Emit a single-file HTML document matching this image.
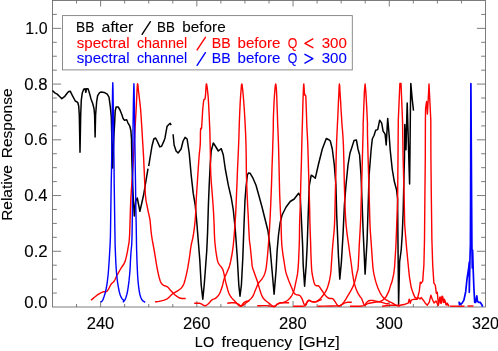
<!DOCTYPE html>
<html><head><meta charset="utf-8"><title>Relative Response vs LO frequency</title>
<style>
html,body{margin:0;padding:0;background:#fff;}
body{width:498px;height:351px;overflow:hidden;font-family:"Liberation Sans",sans-serif;}
svg{display:block;}
</style></head><body>
<svg style="will-change:transform" width="498" height="351" viewBox="0 0 498 351">
<defs><filter id="ga" x="0" y="0" width="100%" height="100%" filterUnits="userSpaceOnUse" color-interpolation-filters="sRGB"><feOffset dx="0" dy="0"/></filter></defs>
<rect width="498" height="351" fill="#fff"/>
<g fill="none" stroke="#666666" stroke-width="0.85" shape-rendering="auto">
<rect x="52.50" y="0.50" width="433.00" height="306.50"/>
<path d="M76.56 307.00 v-3.00 M76.56 0.50 v3.00 M100.61 307.00 v-6.00 M100.61 0.50 v6.00 M124.67 307.00 v-3.00 M124.67 0.50 v3.00 M148.72 307.00 v-3.00 M148.72 0.50 v3.00 M172.78 307.00 v-3.00 M172.78 0.50 v3.00 M196.83 307.00 v-6.00 M196.83 0.50 v6.00 M220.89 307.00 v-3.00 M220.89 0.50 v3.00 M244.94 307.00 v-3.00 M244.94 0.50 v3.00 M269.00 307.00 v-3.00 M269.00 0.50 v3.00 M293.06 307.00 v-6.00 M293.06 0.50 v6.00 M317.11 307.00 v-3.00 M317.11 0.50 v3.00 M341.17 307.00 v-3.00 M341.17 0.50 v3.00 M365.22 307.00 v-3.00 M365.22 0.50 v3.00 M389.28 307.00 v-6.00 M389.28 0.50 v6.00 M413.33 307.00 v-3.00 M413.33 0.50 v3.00 M437.39 307.00 v-3.00 M437.39 0.50 v3.00 M461.44 307.00 v-3.00 M461.44 0.50 v3.00 M52.50 293.07 h4.30 M485.50 293.07 h-4.30 M52.50 279.14 h4.30 M485.50 279.14 h-4.30 M52.50 265.20 h4.30 M485.50 265.20 h-4.30 M52.50 251.27 h8.60 M485.50 251.27 h-8.60 M52.50 237.34 h4.30 M485.50 237.34 h-4.30 M52.50 223.41 h4.30 M485.50 223.41 h-4.30 M52.50 209.48 h4.30 M485.50 209.48 h-4.30 M52.50 195.55 h8.60 M485.50 195.55 h-8.60 M52.50 181.61 h4.30 M485.50 181.61 h-4.30 M52.50 167.68 h4.30 M485.50 167.68 h-4.30 M52.50 153.75 h4.30 M485.50 153.75 h-4.30 M52.50 139.82 h8.60 M485.50 139.82 h-8.60 M52.50 125.89 h4.30 M485.50 125.89 h-4.30 M52.50 111.95 h4.30 M485.50 111.95 h-4.30 M52.50 98.02 h4.30 M485.50 98.02 h-4.30 M52.50 84.09 h8.60 M485.50 84.09 h-8.60 M52.50 70.16 h4.30 M485.50 70.16 h-4.30 M52.50 56.23 h4.30 M485.50 56.23 h-4.30 M52.50 42.30 h4.30 M485.50 42.30 h-4.30 M52.50 28.36 h8.60 M485.50 28.36 h-8.60 M52.50 14.43 h4.30 M485.50 14.43 h-4.30"/>
</g>
<rect x="62.5" y="15.6" width="289.8" height="54.3" fill="#fff" stroke="#808080" stroke-width="0.9"/>
<g fill="none" stroke-linejoin="round" stroke-linecap="butt">
<g stroke="#000" stroke-width="1.5">
<path d="M52.4 90.5 L54.8 92.9 L57.2 94.1 L59.6 96.5 L61.8 98.7 L64.5 96.7 L66.9 93.5 L68.7 91.4 L70.2 91.2 L72.3 95.3 L75.3 101.0 L77.7 102.3 L78.7 106.0 L79.3 115.0 L80.0 152.3 L80.7 115.0 L81.3 100.0 L82.3 92.9 L83.7 89.3 L85.2 88.7 L85.8 92.3 L86.5 88.7 L88.0 88.7 L89.2 92.3 L91.0 98.9 L92.8 103.7 L94.0 108.5 L94.6 115.0 L95.1 137.0 L95.6 115.0 L96.7 101.3 L97.6 95.9 L99.4 92.9 L101.2 91.9 L104.2 92.4 L107.2 94.1 L109.0 97.1 L110.4 107.5 L111.3 117.0 L112.6 168.0 L113.9 135.0 L114.6 124.0 L115.2 111.0 L116.1 107.0 L118.2 107.0 L120.0 110.0 L121.9 114.7 L123.1 118.6 L124.5 120.3 L126.7 119.8 L127.9 122.8 L129.7 125.8 L130.9 130.7 L131.5 139.0 L131.8 157.0 L132.6 185.0 L134.3 216.0 L135.7 201.0 L137.3 198.0 L139.9 211.3 L143.6 195.0 L148.0 168.6"/>
<path d="M148.7 166.2 L150.2 157.0 L152.0 146.0 L153.8 139.0 L155.6 138.0 L157.4 141.5 L159.8 146.9 L161.6 146.3 L164.0 140.9 L165.0 137.9 L167.1 126.2 L170.1 123.2 L171.1 125.2"/>
<path d="M173.1 134.2 L174.1 145.0 L176.1 151.0 L178.1 153.0 L181.1 149.0 L183.1 141.0 L185.1 137.4 L187.1 139.0 L189.2 153.0 L191.2 175.2 L193.2 193.2 L195.2 205.0 L196.6 220.0 L198.2 240.0 L199.8 260.0 L201.2 285.0 L202.8 299.2 L204.2 285.0 L205.5 268.0 L206.8 250.0 L207.6 232.0 L208.4 205.0 L209.2 185.0 L210.2 165.0 L211.2 151.0 L213.3 143.0 L215.3 146.0 L218.3 151.0 L221.3 148.7 L223.3 155.0 L225.3 169.0 L228.3 185.2 L231.3 198.0 L233.3 210.0 L235.3 230.0 L237.3 258.0 L238.8 285.0 L240.0 296.2 L241.4 285.0 L242.8 258.0 L244.0 225.0 L245.0 200.0 L246.0 187.0 L247.4 175.0 L248.4 173.0 L250.0 173.2 L253.0 178.2 L256.0 185.2 L259.0 196.0 L262.0 207.0 L265.0 219.0 L268.0 231.0 L270.0 247.0 L272.1 271.0 L274.1 294.2 L276.1 270.0 L277.1 251.0 L278.5 235.0 L280.1 223.0 L282.1 215.0 L286.1 207.0 L290.2 201.5 L294.2 199.0 L298.6 193.2 L300.2 196.0 L301.2 215.0 L302.6 245.0 L303.2 265.0 L304.6 286.2 L306.2 265.0 L307.2 245.0 L308.2 215.0 L309.2 186.0 L311.2 175.2 L313.3 176.5 L315.3 178.2 L318.3 165.0 L322.3 149.0 L326.3 138.5 L329.3 140.0 L330.3 141.0 L332.3 149.0 L334.3 165.0 L335.9 185.0 L336.7 215.0 L338.4 255.0 L339.8 279.1 L341.4 262.0 L343.0 235.0 L344.4 205.0 L346.0 185.0 L348.0 165.0 L350.0 153.0 L352.0 147.0 L354.0 140.6 L356.4 140.0 L358.0 149.0 L359.6 155.0 L361.0 175.0 L362.0 200.0 L363.1 230.0 L365.1 274.1 L367.1 240.0 L368.5 195.0 L369.1 175.0 L371.1 150.0 L372.3 139.0 L374.1 135.2 L375.7 130.2 L377.7 129.6 L379.7 120.2 L381.7 123.2 L383.1 131.2 L385.1 134.2 L386.2 145.0 L387.7 118.4 L389.2 136.0 L390.2 150.0 L392.2 169.0 L394.2 181.0 L396.6 190.0 L397.6 199.0 L398.0 245.0 L398.6 304.2 L399.6 262.0 L401.2 250.0 L402.2 235.0 L403.2 211.0 L404.0 175.0 L404.5 157.0 L404.8 124.6 L405.4 140.0 L406.0 149.7 L406.6 125.0 L407.2 103.1 L408.0 130.0 L409.0 165.0 L409.6 184.0 L410.0 150.0 L410.4 110.0 L410.8 83.4 L412.2 99.1 L413.5 110.7"/>
</g>
<g stroke="#ff0000" stroke-width="1.4">
<path d="M91.0 300.3 L92.6 298.9 L94.8 297.0 L97.0 295.2 L99.1 293.8 L101.2 292.7 L103.1 291.8 L104.6 291.6 L105.8 291.8 L107.1 291.2 L108.5 289.2 L109.8 286.5 L111.1 284.2 L112.2 283.0 L113.1 282.3 L114.1 281.2 L115.1 279.5 L116.0 277.4 L117.1 275.2 L118.4 272.9 L119.7 270.5 L121.1 268.1 L122.5 266.0 L123.9 264.0 L125.2 261.1 L126.3 256.8 L127.4 251.8 L128.2 247.0 L128.8 243.8 L129.2 240.8 L129.6 235.0 L130.0 223.7 L130.4 209.4 L130.9 197.0 L131.4 189.8 L131.8 184.4 L132.5 175.0 L133.5 156.8 L134.7 134.6 L135.7 117.0 L136.2 108.3 L136.4 104.1 L136.6 100.0 L136.9 93.6 L137.2 87.3 L137.5 83.7 L137.9 84.6 L138.2 88.3 L138.6 92.0 L139.0 94.8 L139.3 97.6 L139.7 101.0 L140.1 104.3 L140.5 108.1 L141.0 115.0 L141.8 127.1 L142.7 142.3 L143.6 157.0 L144.2 170.9 L144.8 184.3 L145.4 195.0 L146.1 201.2 L146.8 204.7 L147.5 208.0 L148.3 212.0 L149.2 215.8 L150.0 220.0 L150.5 224.7 L150.9 229.8 L151.5 235.0 L152.3 240.2 L153.3 245.5 L154.3 251.0 L155.3 257.1 L156.3 263.4 L157.3 269.0 L158.3 273.8 L159.3 278.0 L160.3 281.2 L161.3 283.2 L162.2 284.3 L163.3 285.2 L164.6 285.8 L165.9 286.1 L167.3 286.8 L168.7 288.1 L170.0 289.7 L171.4 291.2 L172.7 292.6 L174.0 293.9 L175.4 295.2 L177.0 296.4 L178.7 297.5 L180.4 298.3 L182.3 298.5 L184.3 298.5 L185.7 298.5"/>
<path d="M154.9 301.9 L156.6 301.7 L159.0 301.4 L161.3 300.9 L163.4 300.4 L165.4 299.7 L167.3 298.8 L169.0 297.4 L170.5 295.7 L172.1 294.2 L173.8 293.1 L175.5 292.1 L177.1 291.2 L178.5 290.3 L179.9 289.3 L181.1 288.2 L182.2 286.9 L183.1 285.5 L184.1 283.2 L185.1 279.7 L186.2 275.4 L187.1 271.1 L187.9 267.2 L188.5 263.3 L189.2 259.1 L189.9 254.4 L190.5 249.4 L191.2 245.0 L191.9 241.9 L192.5 239.3 L193.2 236.0 L193.9 231.3 L194.6 225.9 L195.2 220.0 L195.6 213.8 L195.9 207.2 L196.2 200.0 L196.7 191.9 L197.3 183.1 L197.8 175.0 L198.3 167.6 L198.8 160.7 L199.2 155.0 L199.6 151.1 L199.9 148.4 L200.2 145.0 L200.4 139.6 L200.4 133.6 L200.6 129.2 L200.9 128.3 L201.2 129.0 L201.6 128.0 L201.9 123.3 L202.3 116.9 L202.6 111.1 L203.0 106.7 L203.4 102.9 L203.8 100.1 L204.3 99.2 L204.8 99.3 L205.2 98.1 L205.6 94.1 L205.9 88.9 L206.2 85.0 L206.3 84.0 L206.4 84.0 L206.6 84.0 L207.1 86.8 L207.6 91.1 L208.2 97.1 L208.7 105.7 L209.2 115.9 L209.6 125.2 L209.9 132.0 L210.0 138.0 L210.2 145.0 L210.4 154.4 L210.5 165.0 L210.8 175.0 L211.4 183.9 L212.1 192.2 L212.7 200.0 L213.2 207.0 L213.6 213.5 L213.9 220.0 L214.2 226.9 L214.4 233.8 L214.7 240.0 L215.2 245.3 L215.7 249.9 L216.3 254.0 L216.9 257.6 L217.5 260.6 L218.3 263.0 L219.3 264.7 L220.3 265.9 L221.3 267.0 L222.0 268.1 L222.7 269.3 L223.3 271.0 L224.0 273.8 L224.6 277.2 L225.3 280.3 L225.9 282.9 L226.5 285.2 L227.1 287.5 L227.8 290.0 L228.6 292.5 L229.5 294.7 L230.6 296.5 L231.9 298.1 L233.1 299.5 L234.2 300.6 L235.2 301.6 L236.1 302.5 L237.0 303.5 L237.8 304.5 L238.6 305.3 L239.4 305.9 L240.2 306.2 L241.0 306.2 L241.8 305.4 L242.6 304.2 L243.4 303.1 L244.4 302.3 L245.4 301.7 L246.4 301.3 L247.5 301.1 L248.6 301.1 L249.4 301.1"/>
<path d="M194.2 303.2 L195.7 303.2 L197.9 303.2 L200.0 303.3 L201.7 304.1 L203.3 305.2 L204.8 305.8 L206.1 305.5 L207.2 304.7 L208.4 303.7 L209.6 302.5 L210.8 301.0 L212.0 299.8 L213.2 299.2 L214.5 298.8 L215.7 298.1 L216.9 297.1 L218.1 295.8 L219.3 294.1 L220.4 291.8 L221.4 289.0 L222.3 286.3 L222.9 283.9 L223.4 281.5 L224.1 279.0 L225.2 276.1 L226.6 273.2 L227.7 270.6 L228.4 268.9 L229.0 267.6 L229.5 266.0 L230.1 263.8 L230.7 261.2 L231.3 258.0 L232.0 254.5 L232.6 250.4 L233.3 245.0 L234.0 237.4 L234.7 228.4 L235.3 220.0 L235.7 213.1 L236.0 206.9 L236.3 200.0 L236.6 192.0 L237.0 183.5 L237.3 175.0 L237.6 167.2 L238.0 159.4 L238.4 150.0 L238.9 137.3 L239.3 123.1 L239.8 111.0 L240.2 102.4 L240.6 96.0 L241.0 91.0 L241.3 87.2 L241.5 84.8 L241.8 84.0 L242.1 84.8 L242.4 87.2 L242.8 91.0 L243.3 96.2 L243.8 102.8 L244.4 111.0 L245.0 121.4 L245.6 133.4 L246.0 145.0 L246.2 155.5 L246.3 165.5 L246.4 175.0 L246.7 183.9 L247.0 192.2 L247.4 200.0 L247.7 207.0 L248.1 213.5 L248.4 220.0 L248.7 227.2 L249.1 234.4 L249.4 240.0 L249.7 242.7 L249.9 243.8 L250.2 246.0 L250.7 251.0 L251.3 257.1 L251.8 262.0 L252.0 264.4 L252.1 265.6 L252.4 267.0 L253.0 269.2 L253.9 271.6 L254.8 274.2 L255.8 276.9 L256.8 279.8 L257.8 282.7 L258.6 285.6 L259.4 288.4 L260.2 291.1 L261.1 293.7 L262.1 296.2 L263.3 298.3 L264.8 299.9 L266.4 301.2 L268.1 302.5 L269.8 303.9 L271.5 305.2 L272.9 306.2 L273.6 306.5 L274.0 306.5 L274.7 306.5 L275.9 305.5 L277.4 304.1 L278.9 303.1 L280.4 302.8 L282.0 302.8 L283.7 302.8 L285.7 302.8 L287.7 302.8 L289.2 302.8"/>
<path d="M227.3 303.2 L229.2 303.0 L231.9 302.8 L234.3 302.8 L235.9 303.1 L237.2 303.6 L238.4 304.2 L239.5 304.9 L240.4 305.7 L241.4 306.0 L242.3 305.8 L243.2 305.1 L244.4 304.2 L246.2 302.8 L248.2 301.1 L250.0 299.5 L251.2 298.4 L252.1 297.3 L253.0 295.9 L254.0 293.7 L255.0 291.1 L256.0 288.7 L256.8 286.7 L257.5 285.0 L258.4 283.3 L259.6 281.8 L260.8 280.4 L262.0 279.0 L262.9 277.5 L263.8 276.0 L264.5 274.2 L265.1 272.5 L265.7 270.5 L266.3 267.0 L267.0 261.0 L267.7 253.5 L268.3 246.0 L268.8 239.3 L269.3 232.7 L269.7 225.0 L270.2 215.7 L270.7 205.3 L271.1 195.0 L271.5 185.0 L271.8 175.0 L272.1 165.0 L272.5 154.6 L272.8 144.3 L273.1 135.0 L273.3 127.6 L273.3 121.3 L273.5 115.0 L273.8 108.0 L274.1 101.0 L274.5 95.0 L274.9 89.9 L275.3 85.7 L275.7 84.0 L276.0 85.3 L276.4 89.1 L276.7 95.0 L277.0 104.0 L277.4 115.0 L277.7 125.0 L278.0 131.3 L278.2 136.5 L278.5 145.0 L278.9 160.2 L279.3 178.7 L279.7 195.0 L280.2 206.8 L280.7 216.4 L281.1 225.0 L281.3 232.7 L281.5 239.3 L281.9 246.0 L282.8 253.6 L284.0 261.1 L284.9 267.0 L285.4 270.1 L285.7 271.5 L286.1 273.0 L286.8 275.3 L287.7 277.8 L288.6 280.3 L289.6 282.8 L290.6 285.2 L291.6 287.5 L292.4 289.6 L293.2 291.4 L294.0 292.9 L294.8 293.8 L295.6 294.3 L296.4 294.7 L297.4 294.9 L298.4 295.0 L299.4 295.3 L300.3 296.1 L301.1 297.1 L301.8 298.3 L302.5 299.9 L303.1 301.6 L303.6 303.1 L304.1 304.2 L304.5 305.0 L304.8 305.6"/>
<path d="M257.2 305.8 L259.5 305.7 L262.8 305.6 L266.0 305.6 L268.9 305.9 L271.8 306.4 L274.1 306.5 L275.5 306.0 L276.3 305.1 L277.1 304.3 L278.0 303.8 L279.0 303.5 L280.1 303.1 L281.6 302.8 L283.2 302.5 L284.9 301.9 L286.6 301.0 L288.3 299.8 L289.8 298.3 L291.2 296.5 L292.4 294.5 L293.4 292.3 L294.1 290.0 L294.7 287.6 L295.2 285.1 L295.8 282.4 L296.4 279.6 L297.0 276.6 L297.5 273.9 L297.8 271.1 L298.2 267.0 L298.6 260.8 L298.9 253.4 L299.2 246.0 L299.4 239.1 L299.5 232.3 L299.6 225.0 L299.8 218.1 L300.1 210.7 L300.4 200.0 L300.8 183.0 L301.4 162.6 L301.8 145.0 L302.1 132.8 L302.4 123.3 L302.6 115.0 L302.8 107.3 L303.0 100.6 L303.2 95.0 L303.4 89.9 L303.6 85.7 L303.8 84.0 L304.0 86.4 L304.3 91.3 L304.6 95.0 L305.0 95.0 L305.4 95.0 L305.8 96.0 L306.1 103.9 L306.5 115.0 L306.8 125.0 L307.1 131.0 L307.4 136.1 L307.8 145.0 L308.3 161.9 L308.9 182.6 L309.4 200.0 L309.7 210.7 L309.8 218.1 L310.0 225.0 L310.2 232.3 L310.5 239.1 L310.7 246.0 L310.9 253.4 L311.2 260.8 L311.5 267.0 L311.8 271.1 L312.2 274.0 L312.7 276.6 L313.3 279.4 L313.9 282.0 L314.5 283.9 L315.1 285.0 L315.7 285.4 L316.3 285.7 L317.1 285.8 L317.9 285.7 L318.7 286.0 L319.5 286.9 L320.3 288.1 L321.1 289.3 L321.9 290.5 L322.7 291.7 L323.5 292.9 L324.3 294.0 L325.1 295.0 L325.9 295.9 L326.8 296.8 L327.8 297.7 L328.9 298.3 L330.1 298.5 L331.4 298.4 L332.5 298.6 L333.4 299.3 L334.1 300.2 L334.9 301.3 L335.7 302.6 L336.5 303.9 L337.3 305.0 L337.9 305.7 L338.5 306.1 L339.2 306.2 L340.0 305.9 L341.0 305.2 L342.0 304.5 L343.1 303.8 L344.3 303.1 L345.8 302.6 L347.9 302.3 L350.2 302.2 L351.8 302.2"/>
<path d="M304.8 305.6 L305.4 304.7 L306.2 303.3 L307.0 302.2 L307.7 301.4 L308.3 300.8 L309.0 300.5 L309.7 300.6 L310.5 301.1 L311.4 301.5 L312.4 301.8 L313.4 302.0 L314.5 302.1 L315.6 301.9 L316.8 301.5 L318.0 301.0 L319.4 300.4 L320.7 299.8 L321.7 299.3"/>
<path d="M293.2 306.2 L295.0 306.2 L297.6 306.2 L300.0 306.2 L302.0 306.2 L303.9 306.1 L305.4 305.6 L306.3 304.5 L306.7 303.1 L307.2 301.9 L307.8 301.0 L308.4 300.4 L309.0 300.1 L309.7 300.3 L310.5 300.8 L311.4 301.3 L312.4 301.6 L313.5 301.8 L314.5 301.9 L315.3 301.9 L316.1 301.7 L316.9 301.3 L317.8 300.7 L318.8 299.9 L319.9 298.9 L321.1 297.7 L322.3 296.2 L323.5 294.7 L324.6 293.2 L325.6 291.7 L326.5 289.9 L327.4 287.7 L328.2 285.3 L328.9 282.7 L329.6 279.9 L330.1 277.0 L330.6 274.2 L330.8 272.2 L331.0 270.4 L331.2 267.0 L331.6 261.0 L332.1 253.5 L332.7 246.0 L333.3 239.1 L334.0 232.3 L334.5 225.0 L334.8 217.1 L335.0 208.9 L335.2 200.0 L335.4 190.4 L335.7 180.2 L335.9 170.0 L336.1 159.8 L336.4 149.6 L336.7 140.0 L337.1 131.1 L337.5 122.8 L337.9 115.0 L338.2 107.6 L338.5 100.8 L338.8 95.0 L339.0 89.9 L339.2 85.7 L339.4 84.0 L339.7 86.1 L339.9 90.6 L340.2 95.0 L340.4 98.0 L340.6 101.0 L340.8 105.0 L341.1 110.9 L341.6 118.0 L342.0 125.0 L342.5 130.4 L342.9 135.7 L343.4 145.0 L343.9 161.9 L344.3 182.6 L344.8 200.0 L345.2 210.7 L345.6 218.1 L346.1 225.0 L346.9 232.3 L347.8 239.1 L348.8 246.0 L349.8 253.5 L350.9 261.0 L351.7 267.0 L352.1 270.4 L352.3 272.2 L352.6 274.2 L353.1 277.0 L353.6 280.0 L354.2 282.7 L354.8 285.0 L355.4 286.9 L356.0 288.7 L356.6 290.3 L357.2 291.6 L357.8 292.9 L358.5 294.2 L359.3 295.4 L360.0 296.5 L360.7 297.4 L361.3 298.1 L361.8 298.9 L362.2 299.9 L362.6 300.9 L363.0 302.0 L363.4 303.3 L363.9 304.6 L364.4 305.3 L365.1 304.8 L365.8 303.6 L366.6 302.5 L367.4 301.8 L368.1 301.2 L369.0 300.7 L369.9 300.5 L370.9 300.4 L372.0 300.4 L373.1 300.5 L374.3 300.8 L375.7 301.1 L377.6 301.5 L379.7 301.9 L381.7 302.3 L383.5 302.8 L385.1 303.4 L386.5 303.7 L387.6 303.7 L388.4 303.5 L388.9 303.4"/>
<path d="M317.5 306.2 L323.2 306.1 L331.2 306.0 L337.3 305.8 L339.8 305.6 L340.4 305.5 L341.0 305.0 L342.1 304.2 L343.0 303.1 L344.0 301.9 L345.0 300.5 L346.0 298.9 L347.0 297.1 L348.2 295.2 L349.4 293.1 L350.6 291.1 L351.7 289.1 L352.7 287.2 L353.6 285.1 L354.4 282.7 L355.2 280.2 L355.8 277.8 L356.3 275.7 L356.8 273.7 L357.2 271.8 L357.6 270.7 L357.9 269.8 L358.2 267.0 L358.5 261.2 L358.9 253.6 L359.2 246.0 L359.6 239.1 L360.0 232.3 L360.4 225.0 L360.7 218.4 L360.9 211.4 L361.2 200.0 L361.8 179.4 L362.5 154.4 L363.0 135.0 L363.2 127.1 L363.1 124.7 L363.3 120.0 L363.8 106.9 L364.4 91.4 L365.1 84.0 L365.8 91.4 L366.7 106.9 L367.3 120.0 L367.5 124.7 L367.4 127.1 L367.5 135.0 L368.0 154.4 L368.7 179.4 L369.3 200.0 L369.6 211.4 L369.8 218.4 L370.0 225.0 L370.4 232.3 L370.9 239.1 L371.4 246.0 L371.9 253.4 L372.4 260.8 L372.9 267.0 L373.4 271.1 L373.9 273.9 L374.5 276.6 L375.2 279.6 L376.0 282.4 L376.9 285.1 L377.8 287.7 L378.8 290.1 L379.9 292.3 L381.0 294.3 L382.2 296.1 L383.5 297.7 L384.8 298.9 L386.2 299.8 L387.7 300.7 L389.3 301.6 L391.0 302.3 L392.5 303.1 L393.8 303.9 L394.9 304.7 L396.1 305.3 L397.5 305.7 L398.8 306.0 L399.8 306.2"/>
<path d="M350.0 306.2 L360.0 306.2 L364.2 305.6 L368.0 303.5 L372.0 302.7 L376.0 302.0 L379.3 301.9 L382.9 300.1 L385.9 297.1 L388.9 291.1 L390.7 285.1 L391.9 282.1 L393.7 274.2 L394.6 267.0 L395.9 246.0 L396.7 225.0 L397.6 200.0 L398.0 157.0 L398.3 120.0 L399.9 83.4 L401.0 83.4 L402.5 120.0 L403.1 157.0 L404.2 200.0 L404.7 225.0 L406.4 246.0 L408.4 267.0 L409.4 276.6 L411.2 287.5 L413.0 292.9 L414.8 297.1 L416.6 298.3 L418.4 297.7 L420.0 298.9 L421.3 297.6 L423.3 300.2 L425.3 303.2 L427.3 305.2 L429.3 302.2 L430.9 295.2 L432.3 299.2 L434.0 303.0 L436.0 301.0 L438.0 305.0 L440.4 297.1 L441.5 303.0 L442.6 296.5 L444.0 302.5 L445.2 301.3 L446.4 305.0 L447.6 304.3 L449.0 306.0"/>
<path d="M382.1 306.2 L390.2 305.2 L400.2 305.2 L405.2 304.2 L408.2 303.2 L409.2 299.2 L410.2 303.2 L411.2 300.2 L414.3 299.2 L417.3 299.2 L419.3 291.2 L420.3 282.1 L421.3 283.2 L422.7 281.1 L423.9 265.0 L424.5 240.0 L424.9 195.0 L425.3 157.0 L425.4 120.0 L425.6 108.0 L426.6 101.5 L427.4 114.0 L428.2 100.0 L429.0 84.0 L429.8 100.0 L430.8 120.0 L430.9 157.0 L431.3 195.0 L431.9 240.0 L432.7 265.0 L433.9 283.2 L435.3 285.2 L436.3 293.2 L437.3 292.2 L438.4 305.2 L439.8 297.2 L440.8 303.2 L442.0 296.2 L443.4 302.2 L444.4 299.2 L446.0 304.2 L447.4 303.2 L448.8 306.2"/>
<path d="M450.0 306.2 L464.5 306.2"/>
<path d="M467.5 306.0 L473.5 306.0"/>
</g>
<g stroke="#0000ff" stroke-width="1.4">
<path d="M100.7 302.3 L101.3 301.8 L102.2 301.0 L103.1 299.3 L104.1 296.5 L105.2 293.0 L106.1 289.0 L106.9 284.8 L107.5 280.2 L108.1 275.0 L108.6 268.7 L109.1 261.7 L109.5 255.0 L109.8 249.7 L110.1 244.6 L110.4 237.0 L110.6 225.3 L110.8 211.1 L111.0 197.0 L111.2 183.7 L111.5 170.3 L111.7 157.0 L111.9 143.5 L112.0 129.9 L112.2 117.0 L112.4 102.6 L112.6 88.9 L112.8 82.8 L113.0 88.9 L113.2 102.6 L113.4 117.0 L113.6 129.9 L113.7 143.5 L113.9 157.0 L114.1 170.3 L114.2 183.7 L114.4 197.0 L114.6 211.1 L114.8 225.3 L115.0 237.0 L115.1 244.6 L115.3 249.7 L115.5 255.0 L115.8 261.7 L116.2 268.7 L116.7 275.0 L117.3 280.3 L118.0 285.0 L118.7 289.0 L119.4 292.3 L120.2 295.0 L121.1 297.2 L122.2 298.9 L123.4 300.1 L124.2 300.9"/>
<path d="M122.8 302.3 L123.4 301.7 L124.3 300.8 L125.2 299.3 L126.0 297.2 L126.8 294.5 L127.6 291.0 L128.3 286.4 L129.0 280.9 L129.6 275.0 L130.1 268.6 L130.4 261.7 L130.8 255.0 L131.2 249.7 L131.7 244.6 L132.0 237.0 L132.2 225.3 L132.4 211.1 L132.5 197.0 L132.6 183.7 L132.7 170.3 L132.8 157.0 L132.9 143.4 L133.0 129.8 L133.2 117.0 L133.4 102.9 L133.7 89.6 L133.9 83.7 L134.1 89.6 L134.3 102.9 L134.5 117.0 L134.7 129.8 L134.9 143.4 L135.1 157.0 L135.3 170.3 L135.5 183.7 L135.7 197.0 L135.9 211.1 L136.2 225.3 L136.4 237.0 L136.5 244.6 L136.6 249.7 L136.8 255.0 L137.0 261.7 L137.3 268.6 L137.6 275.0 L138.0 280.9 L138.6 286.4 L139.2 291.0 L139.9 294.5 L140.7 297.2 L141.6 299.3 L142.8 300.8 L144.2 301.7 L145.2 302.3"/>
<path stroke-width="1.7" d="M459.7 305.5 L459.1 302.3 L460.3 304.3 L462.1 303.1 L463.9 300.1 L465.7 291.7 L467.0 279.0 L468.7 268.0 L469.3 262.0 L469.3 292.3 L470.0 257.0 L470.4 245.0 L470.6 200.0 L470.9 83.7 L471.6 200.0 L471.9 245.0 L472.3 267.9 L472.6 250.0 L473.2 270.0 L473.9 288.0 L474.7 302.5 L475.6 302.5 L476.8 295.9 L477.5 301.3 L479.0 302.5 L480.2 302.3 L482.0 305.0 L482.6 306.7"/>
</g>
</g>
<g font-family="'Liberation Sans', sans-serif" font-size="15.1" stroke="none" filter="url(#ga)">
<text x="24.30" y="307.60" font-size="15.6" textLength="23.31" lengthAdjust="spacingAndGlyphs" fill="#000" stroke="#000" stroke-width="0.1">0.0</text>
<text x="24.29" y="256.87" font-size="15.6" textLength="23.49" lengthAdjust="spacingAndGlyphs" fill="#000" stroke="#000" stroke-width="0.1">0.2</text>
<text x="24.30" y="201.15" font-size="15.6" textLength="23.13" lengthAdjust="spacingAndGlyphs" fill="#000" stroke="#000" stroke-width="0.1">0.4</text>
<text x="24.30" y="145.42" font-size="15.6" textLength="23.31" lengthAdjust="spacingAndGlyphs" fill="#000" stroke="#000" stroke-width="0.1">0.6</text>
<text x="24.30" y="89.69" font-size="15.6" textLength="23.31" lengthAdjust="spacingAndGlyphs" fill="#000" stroke="#000" stroke-width="0.1">0.8</text>
<text x="25.38" y="33.96" font-size="15.6" textLength="22.19" lengthAdjust="spacingAndGlyphs" fill="#000" stroke="#000" stroke-width="0.1">1.0</text>
<text x="86.68" y="329.20" font-size="15.6" textLength="27.63" lengthAdjust="spacingAndGlyphs" fill="#000" stroke="#000" stroke-width="0.1">240</text>
<text x="182.91" y="329.20" font-size="15.6" textLength="27.63" lengthAdjust="spacingAndGlyphs" fill="#000" stroke="#000" stroke-width="0.1">260</text>
<text x="279.13" y="329.20" font-size="15.6" textLength="27.63" lengthAdjust="spacingAndGlyphs" fill="#000" stroke="#000" stroke-width="0.1">280</text>
<text x="375.69" y="329.20" font-size="15.6" textLength="27.28" lengthAdjust="spacingAndGlyphs" fill="#000" stroke="#000" stroke-width="0.1">300</text>
<text x="472.01" y="329.20" font-size="15.6" textLength="27.07" lengthAdjust="spacingAndGlyphs" fill="#000" stroke="#000" stroke-width="0.1">320</text>
<text x="194.84" y="347.30" textLength="19.35" lengthAdjust="spacingAndGlyphs" fill="#000" stroke="#000" stroke-width="0.1">LO</text>
<text x="221.44" y="347.30" textLength="70.96" lengthAdjust="spacingAndGlyphs" fill="#000" stroke="#000" stroke-width="0.1">frequency</text>
<text x="298.78" y="347.30" textLength="40.80" lengthAdjust="spacingAndGlyphs" fill="#000" stroke="#000" stroke-width="0.1">[GHz]</text>
<g transform="translate(11.6 219.6) rotate(-90)">
<text x="-1.24" y="0.00" textLength="55.79" lengthAdjust="spacingAndGlyphs" fill="#000" stroke="#000" stroke-width="0.1">Relative</text>
<text x="61.36" y="0.00" textLength="69.80" lengthAdjust="spacingAndGlyphs" fill="#000" stroke="#000" stroke-width="0.1">Response</text>
</g>
<text x="76.00" y="32.30" textLength="18.35" lengthAdjust="spacingAndGlyphs" fill="#000" stroke="#000" stroke-width="0.1">BB</text>
<text x="101.56" y="32.30" textLength="31.84" lengthAdjust="spacingAndGlyphs" fill="#000" stroke="#000" stroke-width="0.1">after</text>
<path d="M142.1 34.3 L150.4 21.7" fill="none" stroke="#000" stroke-width="1.4" stroke-linecap="round" stroke-linejoin="round"/>
<text x="157.03" y="32.30" textLength="17.79" lengthAdjust="spacingAndGlyphs" fill="#000" stroke="#000" stroke-width="0.1">BB</text>
<text x="182.38" y="32.30" textLength="43.27" lengthAdjust="spacingAndGlyphs" fill="#000" stroke="#000" stroke-width="0.1">before</text>
<text x="76.80" y="47.90" textLength="52.74" lengthAdjust="spacingAndGlyphs" fill="#ff0000" stroke="#ff0000" stroke-width="0.1">spectral</text>
<text x="136.93" y="47.90" textLength="50.27" lengthAdjust="spacingAndGlyphs" fill="#ff0000" stroke="#ff0000" stroke-width="0.1">channel</text>
<path d="M197.1 49.9 L205.4 37.3" fill="none" stroke="#ff0000" stroke-width="1.4" stroke-linecap="round" stroke-linejoin="round"/>
<text x="211.87" y="47.90" textLength="18.90" lengthAdjust="spacingAndGlyphs" fill="#ff0000" stroke="#ff0000" stroke-width="0.1">BB</text>
<text x="237.60" y="47.90" textLength="42.75" lengthAdjust="spacingAndGlyphs" fill="#ff0000" stroke="#ff0000" stroke-width="0.1">before</text>
<text x="287.71" y="47.90" textLength="9.58" lengthAdjust="spacingAndGlyphs" fill="#ff0000" stroke="#ff0000" stroke-width="0.1">Q</text>
<path d="M312.9 38.9 L304.9 43.3 L312.9 47.7" fill="none" stroke="#ff0000" stroke-width="1.4" stroke-linecap="round" stroke-linejoin="round"/>
<text x="321.75" y="47.90" textLength="25.09" lengthAdjust="spacingAndGlyphs" fill="#ff0000" stroke="#ff0000" stroke-width="0.1">300</text>
<text x="76.80" y="63.30" textLength="52.74" lengthAdjust="spacingAndGlyphs" fill="#0000ff" stroke="#0000ff" stroke-width="0.1">spectral</text>
<text x="136.93" y="63.30" textLength="50.27" lengthAdjust="spacingAndGlyphs" fill="#0000ff" stroke="#0000ff" stroke-width="0.1">channel</text>
<path d="M197.1 65.3 L205.4 52.7" fill="none" stroke="#0000ff" stroke-width="1.4" stroke-linecap="round" stroke-linejoin="round"/>
<text x="211.87" y="63.30" textLength="18.90" lengthAdjust="spacingAndGlyphs" fill="#0000ff" stroke="#0000ff" stroke-width="0.1">BB</text>
<text x="237.60" y="63.30" textLength="42.75" lengthAdjust="spacingAndGlyphs" fill="#0000ff" stroke="#0000ff" stroke-width="0.1">before</text>
<text x="287.71" y="63.30" textLength="9.58" lengthAdjust="spacingAndGlyphs" fill="#0000ff" stroke="#0000ff" stroke-width="0.1">Q</text>
<path d="M304.9 54.3 L312.9 58.7 L304.9 63.1" fill="none" stroke="#0000ff" stroke-width="1.4" stroke-linecap="round" stroke-linejoin="round"/>
<text x="321.75" y="63.30" textLength="25.09" lengthAdjust="spacingAndGlyphs" fill="#0000ff" stroke="#0000ff" stroke-width="0.1">300</text>
</g>
</svg>
</body></html>
